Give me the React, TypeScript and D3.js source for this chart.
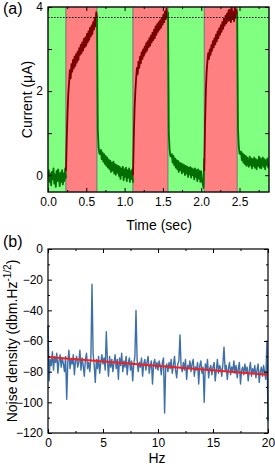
import { useEffect, useRef } from "react";
import * as d3 from "d3";

const W = 275;
const H = 469;

// (a) switching times in sec: green / red bands alternate
const bandEdges = [0, 0.235, 0.64, 1.11, 1.567, 2.04, 2.47, 2.885];

// current (uA), one array per band
const seg0 = [-0.05, 0.12, -0.16, 0.04, -0.24, 0.08, -0.1, 0.16, -0.2, 0.02, -0.28, 0.1, -0.14, 0.14, -0.06, -0.26, 0.06, -0.16, 0.12, -0.22, 0.04, -0.14, 0.16, -0.08];
const seg1 = [0.1, 0.9, 1.5, 1.95, 2.2, 2.5, 2.3, 2.64, 2.46, 2.74, 2.54, 2.82, 2.6, 2.88, 2.68, 2.94, 2.74, 3.02, 2.86, 3.1, 2.9, 3.16, 2.96, 3.24, 3.04, 3.28, 3.08, 3.36, 3.16, 3.42, 3.22, 3.5, 3.3, 3.56, 3.36, 3.64, 3.46, 3.74, 3.54, 3.88, 3.75];
const seg2 = [3.75, 1.1, 0.66, 0.52, 0.5, 0.6, 0.38, 0.54, 0.32, 0.5, 0.27, 0.46, 0.22, 0.42, 0.18, 0.37, 0.14, 0.34, 0.08, 0.3, 0.11, 0.32, 0.04, 0.26, 0.01, 0.24, 0.06, 0.22, -0.02, 0.2, -0.09, 0.16, 0.0, 0.2, -0.12, 0.14, -0.04, 0.18, -0.14, 0.12, -0.06, 0.16, -0.16, 0.1, -0.09, 0.14, -0.18];
const seg3 = [0.0, 0.9, 1.6, 2.0, 2.3, 2.55, 2.4, 2.7, 2.55, 2.82, 2.66, 2.92, 2.76, 2.99, 2.84, 3.06, 2.91, 3.14, 2.96, 3.19, 3.04, 3.26, 3.08, 3.32, 3.16, 3.39, 3.21, 3.46, 3.26, 3.54, 3.34, 3.59, 3.41, 3.64, 3.46, 3.69, 3.51, 3.74, 3.58, 3.82, 3.64, 3.89, 3.71, 3.96, 3.76, 3.88];
const seg4 = [3.88, 1.0, 0.62, 0.46, 0.44, 0.5, 0.3, 0.46, 0.24, 0.4, 0.18, 0.36, 0.14, 0.34, 0.08, 0.3, 0.12, 0.28, 0.04, 0.26, 0.08, 0.24, 0.0, 0.22, 0.04, 0.2, -0.04, 0.18, 0.02, 0.19, -0.06, 0.16, 0.0, 0.14, -0.1, 0.16, -0.04, 0.12, -0.14, 0.14, -0.08, 0.1, -0.16, 0.09, -0.12, -0.2, -0.3, 0.4];
const seg5 = [0.1, 1.2, 2.0, 2.45, 2.7, 2.9, 2.76, 2.99, 2.86, 3.09, 2.96, 3.19, 3.04, 3.26, 3.11, 3.34, 3.18, 3.42, 3.26, 3.49, 3.34, 3.56, 3.41, 3.64, 3.48, 3.72, 3.56, 3.79, 3.61, 3.84, 3.66, 3.92, 3.68, 3.94, 3.64, 3.99, 3.71, 3.89, 3.66, 4.02, 3.74, 3.94, 3.82];
const seg6 = [3.82, 1.1, 0.7, 0.52, 0.5, 0.56, 0.36, 0.52, 0.3, 0.48, 0.26, 0.46, 0.22, 0.42, 0.28, 0.2, 0.44, 0.24, 0.4, 0.16, 0.38, 0.22, 0.42, 0.18, 0.38, 0.14, 0.36, 0.22, 0.44, 0.18, 0.4, 0.16, 0.34, 0.42, 0.2, 0.38, 0.14, 0.36, 0.24, 0.4, 0.18, 0.3];
const segments = [seg0, seg1, seg2, seg3, seg4, seg5, seg6];
const saturation = 3.75;

// (b) noise density, dbm.Hz^-1/2, every 0.1 Hz from 0 to 20 Hz
const noiseStep = 0.1;
const noiseDb = [
  -50, -86, -72, -76, -67, -79, -70, -74, -68, -81,
  -73, -69, -77, -71, -75, -80, -70, -98, -74, -66,
  -78, -72, -75, -69, -82, -73, -70, -77, -74, -66,
  -79, -71, -76, -83, -72, -68, -78, -74, -80, -71,
  -23, -68, -76, -87, -72, -78, -70, -81, -74, -69,
  -75, -71, -79, -54, -73, -83, -70, -77, -72, -80,
  -74, -69, -78, -72, -85, -71, -76, -68, -80, -73,
  -77, -70, -82, -74, -71, -79, -73, -86, -75, -70,
  -40, -72, -80, -74, -77, -71, -83, -75, -72, -79,
  -74, -70, -81, -76, -73, -88, -75, -72, -78, -74,
  -79, -73, -76, -82, -74, -71, -107, -77, -75, -80,
  -74, -78, -72, -81, -76, -70, -79, -84, -75, -73,
  -56, -77, -80, -74, -79, -72, -85, -76, -78, -73,
  -80, -75, -72, -83, -77, -79, -74, -88, -76, -73,
  -81, -77, -100, -75, -79, -72, -84, -78, -76, -82,
  -77, -74, -86, -79, -72, -81, -76, -78, -83, -75,
  -64, -79, -76, -85, -78, -74, -82, -77, -80, -73,
  -81, -76, -84, -78, -74, -88, -79, -77, -82, -75,
  -80, -77, -86, -79, -74, -83, -78, -81, -76, -84,
  -79, -75, -87, -80, -77, -83, -76, -81, -85, -60,
  -112,
];
const fitHz = [0, 20];
const fitDb = [-70.5, -82];

const font = "'Liberation Sans', Arial, sans-serif";

function App() {
  const ref = useRef<SVGSVGElement>(null);

  useEffect(() => {
    const svg = d3.select(ref.current);
    svg.selectAll("*").remove();

    const frame = (x, y, box, xMaj, xMin, yMaj, yMin, xFmt, yFmt) => {
      const axes = [
        [d3.axisBottom(x).tickValues(xMaj).tickSize(-4).tickPadding(5).tickFormat(xFmt), 0, box.bottom],
        [d3.axisBottom(x).tickValues(xMin).tickSize(-2).tickFormat(() => ""), 0, box.bottom],
        [d3.axisTop(x).tickValues(xMaj).tickSize(-4).tickFormat(() => ""), 0, box.top],
        [d3.axisTop(x).tickValues(xMin).tickSize(-2).tickFormat(() => ""), 0, box.top],
        [d3.axisLeft(y).tickValues(yMaj).tickSize(-4).tickPadding(5).tickFormat(yFmt), box.left, 0],
        [d3.axisLeft(y).tickValues(yMin).tickSize(-2).tickFormat(() => ""), box.left, 0],
        [d3.axisRight(y).tickValues(yMaj).tickSize(-4).tickFormat(() => ""), box.right, 0],
        [d3.axisRight(y).tickValues(yMin).tickSize(-2).tickFormat(() => ""), box.right, 0],
      ];
      axes.forEach(([ax, tx, ty]) => {
        const g = svg.append("g").attr("transform", `translate(${tx},${ty})`).call(ax);
        g.attr("font-size", 12).attr("font-family", font);
        g.select(".domain").remove();
        g.selectAll("line").attr("stroke", "#000");
        g.selectAll("text").attr("fill", "#000");
      });
      svg
        .append("rect")
        .attr("x", box.left)
        .attr("y", box.top)
        .attr("width", box.right - box.left)
        .attr("height", box.bottom - box.top)
        .attr("fill", "none")
        .attr("stroke", "#000")
        .attr("stroke-width", 1.2);
    };

    const label = (txt, x, y, size, rotate = false, anchor = "middle") =>
      svg
        .append("text")
        .attr("transform", `translate(${x},${y})${rotate ? " rotate(-90)" : ""}`)
        .attr("text-anchor", anchor)
        .attr("font-family", font)
        .attr("font-size", size)
        .attr("fill", "#000")
        .text(txt);

    // ---------- (a) current vs time ----------
    const a = { left: 48, right: 269, top: 7, bottom: 192 };
    const xa = d3.scaleLinear().domain([0, 2.885]).range([a.left, a.right]);
    const ya = d3.scaleLinear().domain([-0.4, 4]).range([a.bottom, a.top]);

    svg
      .append("clipPath")
      .attr("id", "clipA")
      .append("rect")
      .attr("x", a.left)
      .attr("y", a.top)
      .attr("width", a.right - a.left)
      .attr("height", a.bottom - a.top);

    const bands = d3.pairs(bandEdges);
    svg
      .append("g")
      .selectAll("rect")
      .data(bands)
      .join("rect")
      .attr("x", (d) => xa(d[0]))
      .attr("y", a.top)
      .attr("width", (d) => xa(d[1]) - xa(d[0]))
      .attr("height", a.bottom - a.top)
      .attr("fill", (d, i) => (i % 2 === 0 ? "#80ff80" : "#ff8080"))
      .attr("stroke", "#777")
      .attr("stroke-width", 0.8);

    const traceLine = d3
      .line<[number, number]>()
      .x((d) => xa(d[0]))
      .y((d) => ya(d[1]));

    const tg = svg.append("g").attr("clip-path", "url(#clipA)");
    segments.forEach((vals, i) => {
      const [t0, t1] = bands[i];
      const pts = vals.map((v, k) => [t0 + (k * (t1 - t0)) / (vals.length - 1), v] as [number, number]);
      tg.append("path")
        .datum(pts)
        .attr("fill", "none")
        .attr("stroke", i % 2 === 0 ? "#006e00" : "#7a0000")
        .attr("stroke-width", 1.8)
        .attr("stroke-linejoin", "round")
        .attr("d", traceLine);
    });

    svg
      .append("line")
      .attr("x1", a.left)
      .attr("x2", a.right)
      .attr("y1", ya(saturation))
      .attr("y2", ya(saturation))
      .attr("stroke", "#000")
      .attr("stroke-width", 1)
      .attr("stroke-dasharray", "1.5,1.5");

    frame(
      xa,
      ya,
      a,
      [0, 0.5, 1, 1.5, 2, 2.5],
      [0.25, 0.75, 1.25, 1.75, 2.25, 2.75],
      [0, 1, 2, 3, 4],
      [],
      d3.format(".1f"),
      (d) => (d % 2 === 0 ? String(d) : "")
    );

    label("(a)", 3, 14, 16, false, "start");
    label("Current (\u03bcA)", 32, (a.top + a.bottom) / 2, 14, true);
    label("Time (sec)", 159, 230, 14);

    // ---------- (b) noise spectrum ----------
    const b = { left: 48, right: 268, top: 249, bottom: 433 };
    const xb = d3.scaleLinear().domain([0, 20]).range([b.left, b.right]);
    const yb = d3.scaleLinear().domain([-120, 0]).range([b.bottom, b.top]);

    const noiseLine = d3
      .line<number>()
      .x((d, i) => xb(i * noiseStep))
      .y((d) => yb(d));

    svg
      .append("path")
      .datum(noiseDb)
      .attr("fill", "none")
      .attr("stroke", "#3d6fa8")
      .attr("stroke-width", 1.4)
      .attr("stroke-linejoin", "round")
      .attr("d", noiseLine);

    svg
      .append("path")
      .datum(fitHz.map((f, i) => [f, fitDb[i]] as [number, number]))
      .attr("fill", "none")
      .attr("stroke", "#ff1a1a")
      .attr("stroke-width", 2)
      .attr(
        "d",
        d3
          .line<[number, number]>()
          .x((d) => xb(d[0]))
          .y((d) => yb(d[1]))
      );

    frame(
      xb,
      yb,
      b,
      [0, 5, 10, 15, 20],
      [2.5, 7.5, 12.5, 17.5],
      [0, -20, -40, -60, -80, -100, -120],
      [-10, -30, -50, -70, -90, -110],
      d3.format("d"),
      d3.format("d")
    );

    label("(b)", 3, 247, 16, false, "start");
    label("Hz", 157, 463, 14);

    const yl = svg
      .append("text")
      .attr("transform", `translate(17,${(b.top + b.bottom) / 2}) rotate(-90)`)
      .attr("text-anchor", "middle")
      .attr("font-family", font)
      .attr("font-size", 14)
      .attr("fill", "#000");
    yl.append("tspan").text("Noise density (dbm.Hz");
    yl.append("tspan").attr("font-size", 10).attr("dy", -6).text("-1/2");
    yl.append("tspan").attr("dy", 6).text(")");
  }, []);

  return (
    <svg
      ref={ref}
      width={W}
      height={H}
      viewBox={`0 0 ${W} ${H}`}
      style={{ position: "absolute", left: 0, top: 0, background: "#fff" }}
    />
  );
}

export default App;
